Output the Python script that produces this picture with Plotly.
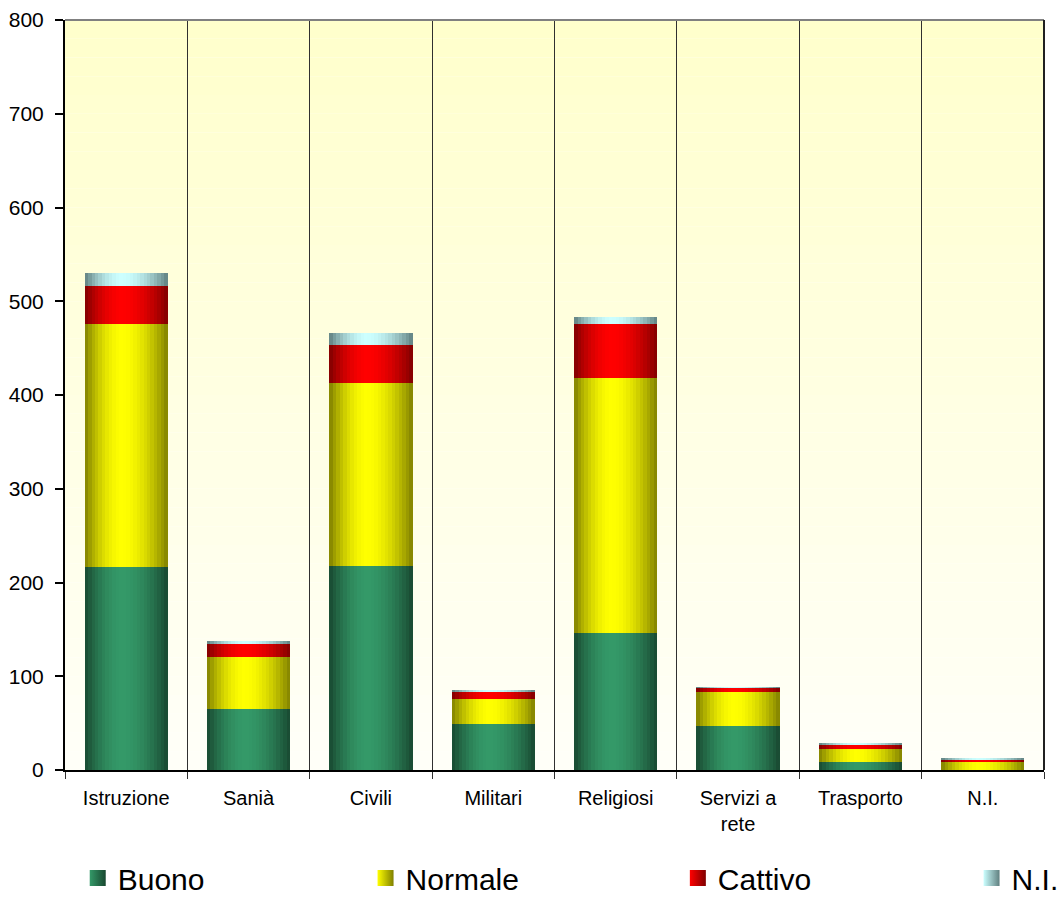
import plotly.graph_objects as go
import numpy as np

categories = ["Istruzione", "Sanià", "Civili", "Militari", "Religiosi", "Servizi a<br>rete", "Trasporto", "N.I."]
series_names = ["Buono", "Normale", "Cattivo", "N.I."]
buono = [217, 65, 218, 49, 146, 47, 8.5, 0]
normale = [259, 55.5, 195, 27, 272, 36, 14, 8.5]
cattivo = [40, 14, 40, 7.5, 58, 4.5, 4.5, 2.5]
ni = [14, 3, 13, 1, 7, 1, 2, 1]
y_ticks = [0, 100, 200, 300, 400, 500, 600, 700, 800]

series_vals = [buono, normale, cattivo, ni]
edge_cols = [(24, 72, 48), (128, 128, 0), (128, 0, 0), (96, 128, 128)]
center_cols = [(52, 153, 104), (255, 255, 0), (255, 0, 0), (204, 255, 255)]
legend_ids = ["legend", "legend2", "legend3", "legend4"]
legend_x = [0.013, 0.307, 0.626, 0.926]

N = 24
bar_w = 0.68

def bright(u):
    p = 0.45
    if u < p:
        d = (p - u) / p
    else:
        d = (u - p) / (1 - p)
    return max(0.0, 1 - d ** 1.8)

def rgb(c):
    return "rgb(%d,%d,%d)" % c

fig = go.Figure()
cum = np.zeros(len(categories))
for s, name in enumerate(series_names):
    vals = np.array(series_vals[s], dtype=float)
    for k in range(N):
        u = (k + 0.5) / N
        b = bright(u)
        c = tuple(int(round(e + b * (cc - e))) for e, cc in zip(edge_cols[s], center_cols[s]))
        fig.add_trace(go.Bar(
            x=categories, y=vals, base=cum.copy(),
            width=bar_w / N * 1.02, offset=-bar_w / 2 + k * bar_w / N,
            marker=dict(color=rgb(c), line=dict(width=0)),
            name=name, showlegend=False, hoverinfo="skip",
        ))
    cum = cum + vals
    # legend entry
    fig.add_trace(go.Scatter(
        x=[categories[0]], y=[None], mode="markers", name=name,
        legend=legend_ids[s], showlegend=True,
        marker=dict(symbol="square", size=20, color=rgb(center_cols[s]),
                    gradient=dict(type="horizontal", color=rgb(edge_cols[s])),
                    line=dict(width=0)),
    ))

# background gradient
shapes = []
M = 40
for i in range(M):
    t = i / (M - 1)
    bl = int(round(248 - t * (248 - 204)))
    shapes.append(dict(type="rect", xref="paper", yref="paper", x0=0, x1=1,
                       y0=i / M, y1=(i + 1) / M, layer="below",
                       fillcolor="rgb(255,255,%d)" % bl, line=dict(width=0)))
shapes.append(dict(type="line", xref="paper", yref="paper", x0=0, x1=1, y0=1, y1=1,
                   line=dict(color="#808080", width=2)))
shapes.append(dict(type="line", xref="paper", yref="paper", x0=1, x1=1, y0=0, y1=1,
                   line=dict(color="#202020", width=2)))

leg_common = dict(orientation="h", xanchor="left", y=-134 / 750, yanchor="bottom",
                  font=dict(size=30), itemsizing="trace", bgcolor="rgba(0,0,0,0)")
legends = {}
for i, lid in enumerate(legend_ids):
    legends[lid] = dict(leg_common, x=legend_x[i])

fig.update_layout(
    width=1058, height=897,
    margin=dict(l=65, r=14, t=20, b=127, autoexpand=False),
    barmode="overlay",
    bargap=0,
    paper_bgcolor="white",
    plot_bgcolor="white",
    shapes=shapes,
    font=dict(family="Liberation Sans, Arial, sans-serif", color="black"),
    showlegend=True,
    xaxis=dict(type="category", tickson="boundaries", showgrid=True,
               gridcolor="#303030", gridwidth=1, ticks="outside", ticklen=7,
               tickcolor="#303030", showline=True, linecolor="black", linewidth=2,
               tickfont=dict(size=20), ticklabelstandoff=9, range=[-0.5, 7.5]),
    yaxis=dict(range=[0, 800], tickvals=y_ticks, showgrid=False, ticks="outside",
               ticklen=8, tickwidth=2, tickcolor="black", showline=True,
               linecolor="black", linewidth=2, tickfont=dict(size=21),
               ticklabelstandoff=7, zeroline=False),
    **legends,
)

fig.write_html("out.html", config={"displayModeBar": False},
               post_script="document.body.style.margin='0';")
